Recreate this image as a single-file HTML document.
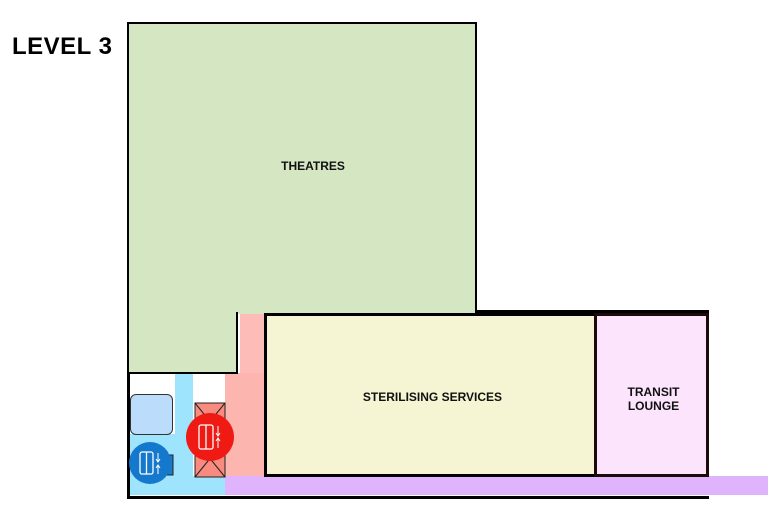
<!DOCTYPE html><html><head><style>
body{margin:0;width:778px;height:516px;background:#fff;position:relative;overflow:hidden;font-family:"Liberation Sans",sans-serif}
div{position:absolute;box-sizing:border-box}
.t{font-weight:bold;font-size:12px;color:#111;text-align:center}
</style></head><body>
<div style="left:12px;top:33px;font-size:24px;font-weight:bold;color:#000;letter-spacing:0.5px">LEVEL 3</div>
<div style="left:127px;top:310px;width:582px;height:189px;border-left:3px solid #000;border-bottom:3px solid #000;"></div>
<div style="left:236px;top:310px;width:473px;height:3px;background:#000"></div>
<div style="left:240px;top:314px;width:25px;height:60px;background:#fdbcb8"></div>
<div style="left:225px;top:373px;width:40px;height:104px;background:#fdb5b0"></div>
<div style="left:175px;top:373px;width:18px;height:122px;background:#9ee4fc"></div>
<div style="left:130px;top:434px;width:45px;height:61px;background:#9ee4fc"></div>
<div style="left:175px;top:476px;width:50px;height:19px;background:#9ee4fc"></div>
<div style="left:225px;top:476px;width:543px;height:19px;background:#e0b4fc"></div>
<div style="left:127px;top:22px;width:350px;height:292px;background:#d4e6c2;border:2px solid #000;border-bottom:none"></div>
<div style="left:127px;top:312px;width:111px;height:62px;background:#d4e6c2;border:2px solid #000;border-top:none"></div>
<div style="left:129px;top:310px;width:107px;height:4px;background:#d4e6c2"></div>
<div class="t" style="left:138px;top:159px;width:350px">THEATRES</div>
<div style="left:264px;top:313px;width:333px;height:164px;background:#f5f5d4;border:3px solid #000"></div>
<div class="t" style="left:266px;top:390px;width:333px">STERILISING SERVICES</div>
<div style="left:594px;top:313px;width:115px;height:164px;background:#fce4fc;border:3px solid #1a0a0a"></div>
<div class="t" style="left:596px;top:385px;width:115px;line-height:14px">TRANSIT<br>LOUNGE</div>
<div style="left:130px;top:394px;width:43px;height:41px;background:#bcdcfc;border:1.5px solid #333;border-radius:6px"></div>
<svg style="position:absolute;left:0;top:0" width="778" height="516">
<rect x="195" y="403" width="30" height="74" fill="#f88a80" stroke="#222" stroke-width="1"/>
<path d="M195 403L225 440M225 403L195 440M195 440L225 477M225 440L195 477" stroke="#222" stroke-width="1"/>
<rect x="140" y="455" width="33" height="20" fill="#1e7ac8" stroke="#222"/>
<circle cx="210" cy="437" r="24" fill="#f01a14"/>
<rect x="199" y="425" width="14" height="24" rx="2" fill="none" stroke="#fff" stroke-width="1.3"/>
<line x1="206" y1="425" x2="206" y2="449" stroke="#fff" stroke-width="1.3"/>
<path d="M218 426v10M216 433l2 3 2-3M218 448v-10M216 441l2-3 2 3" stroke="#fff" fill="none" stroke-width="1"/>
<circle cx="150" cy="463" r="21" fill="#1478cc"/>
<rect x="140" y="452" width="13" height="22" rx="2" fill="none" stroke="#fff" stroke-width="1.3"/>
<line x1="146.5" y1="452" x2="146.5" y2="474" stroke="#fff" stroke-width="1.3"/>
<path d="M158 453v9M156 459l2 3 2-3M158 474v-9M156 468l2-3 2 3" stroke="#fff" fill="none" stroke-width="1"/>
</svg>
</body></html>
